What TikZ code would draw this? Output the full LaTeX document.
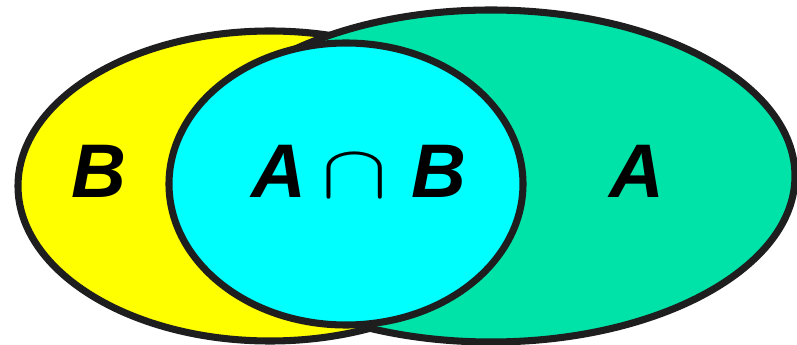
\documentclass[tikz,border=0pt]{standalone}
\usepackage{fontspec}
\setsansfont{Liberation Sans}
\usetikzlibrary{positioning}
\definecolor{setB}{HTML}{FFFF00}
\definecolor{setA}{HTML}{00E3A8}
\definecolor{both}{HTML}{00FFFF}
\definecolor{rim}{HTML}{1E1E1E}

\begin{document}
\begin{tikzpicture}[
  x=0.75pt, y=-0.75pt,
  region/.style={draw=rim, line width=5.3pt},
  lbl/.style={font=\fontsize{57}{60}\selectfont\sffamily\bfseries\itshape,
              inner sep=0pt, anchor=base}
]
  \useasboundingbox (0,0) rectangle (797,345);
  \clip (0,0) rectangle (797,345);

  \draw[region, fill=setB] (270,186) ellipse [x radius=252, y radius=155];
  \draw[region, fill=setA] (491,176) ellipse [x radius=304, y radius=166];
  \draw[region, fill=both] (346,184) ellipse [x radius=177, y radius=141];

  \node[lbl] (b) at (99,198) {B};
  \node[lbl] (a) at (637,198) {A};
  \node[lbl] (ab) at (359,198) {A\hspace{11pt}\scalebox{3.0}[2.3]{$\cap$}\hspace{18pt}B};
\end{tikzpicture}
\end{document}
